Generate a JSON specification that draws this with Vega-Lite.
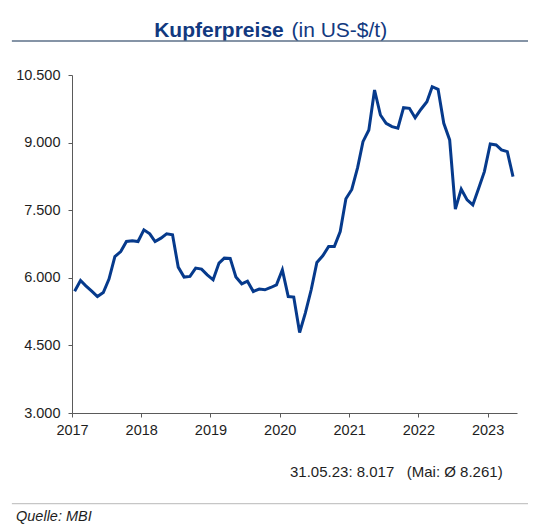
{
  "$schema": "https://vega.github.io/schema/vega-lite/v6.json",
  "width": 445,
  "height": 338,
  "autosize": {"type": "none"},
  "padding": {"left": 72, "top": 75, "right": 25, "bottom": 115},
  "background": "white",
  "config": {"view": {"stroke": null}, "font": "Liberation Sans", "axis": {"grid": false}},
  "layer": [
    {
      "data": {"values": [
        {"date": "2017-01-15", "price": 5700},
        {"date": "2017-02-15", "price": 5940},
        {"date": "2017-03-15", "price": 5822},
        {"date": "2017-04-15", "price": 5705},
        {"date": "2017-05-15", "price": 5585},
        {"date": "2017-06-15", "price": 5674},
        {"date": "2017-07-15", "price": 5971},
        {"date": "2017-08-15", "price": 6472},
        {"date": "2017-09-15", "price": 6583},
        {"date": "2017-10-15", "price": 6805},
        {"date": "2017-11-15", "price": 6820},
        {"date": "2017-12-15", "price": 6805},
        {"date": "2018-01-15", "price": 7064},
        {"date": "2018-02-15", "price": 6975},
        {"date": "2018-03-15", "price": 6805},
        {"date": "2018-04-15", "price": 6880},
        {"date": "2018-05-15", "price": 6975},
        {"date": "2018-06-15", "price": 6953},
        {"date": "2018-07-15", "price": 6237},
        {"date": "2018-08-15", "price": 6016},
        {"date": "2018-09-15", "price": 6030},
        {"date": "2018-10-15", "price": 6215},
        {"date": "2018-11-15", "price": 6193},
        {"date": "2018-12-15", "price": 6066},
        {"date": "2019-01-15", "price": 5956},
        {"date": "2019-02-15", "price": 6326},
        {"date": "2019-03-15", "price": 6436},
        {"date": "2019-04-15", "price": 6430},
        {"date": "2019-05-15", "price": 6020},
        {"date": "2019-06-15", "price": 5867},
        {"date": "2019-07-15", "price": 5925},
        {"date": "2019-08-15", "price": 5696},
        {"date": "2019-09-15", "price": 5749},
        {"date": "2019-10-15", "price": 5734},
        {"date": "2019-11-15", "price": 5785},
        {"date": "2019-12-15", "price": 5845},
        {"date": "2020-01-15", "price": 6177},
        {"date": "2020-02-15", "price": 5585},
        {"date": "2020-03-15", "price": 5572},
        {"date": "2020-04-15", "price": 4787},
        {"date": "2020-05-15", "price": 5217},
        {"date": "2020-06-15", "price": 5734},
        {"date": "2020-07-15", "price": 6339},
        {"date": "2020-08-15", "price": 6487},
        {"date": "2020-09-15", "price": 6693},
        {"date": "2020-10-15", "price": 6693},
        {"date": "2020-11-15", "price": 7026},
        {"date": "2020-12-15", "price": 7755},
        {"date": "2021-01-15", "price": 7960},
        {"date": "2021-02-15", "price": 8450},
        {"date": "2021-03-15", "price": 9021},
        {"date": "2021-04-15", "price": 9281},
        {"date": "2021-05-15", "price": 10167},
        {"date": "2021-06-15", "price": 9613},
        {"date": "2021-07-15", "price": 9429},
        {"date": "2021-08-15", "price": 9354},
        {"date": "2021-09-15", "price": 9318},
        {"date": "2021-10-15", "price": 9775},
        {"date": "2021-11-15", "price": 9761},
        {"date": "2021-12-15", "price": 9553},
        {"date": "2022-01-15", "price": 9740},
        {"date": "2022-02-15", "price": 9908},
        {"date": "2022-03-15", "price": 10241},
        {"date": "2022-04-15", "price": 10183},
        {"date": "2022-05-15", "price": 9429},
        {"date": "2022-06-15", "price": 9059},
        {"date": "2022-07-15", "price": 7523},
        {"date": "2022-08-15", "price": 7966},
        {"date": "2022-09-15", "price": 7729},
        {"date": "2022-10-15", "price": 7618},
        {"date": "2022-11-15", "price": 7988},
        {"date": "2022-12-15", "price": 8356},
        {"date": "2023-01-15", "price": 8970},
        {"date": "2023-02-15", "price": 8948},
        {"date": "2023-03-15", "price": 8837},
        {"date": "2023-04-15", "price": 8800},
        {"date": "2023-05-15", "price": 8245}
      ]},
      "mark": {"type": "line", "color": "#063a8c", "strokeWidth": 3},
      "encoding": {
        "x": {
          "field": "date",
          "type": "temporal",
          "scale": {"type": "utc", "domain": [{"year": 2017, "month": 1, "date": 1, "utc": true}, {"year": 2023, "month": 6, "date": 5, "utc": true}]},
          "axis": {
            "orient": "bottom",
            "values": [
              {"year": 2017, "month": 1, "date": 1, "utc": true},
              {"year": 2018, "month": 1, "date": 1, "utc": true},
              {"year": 2019, "month": 1, "date": 1, "utc": true},
              {"year": 2020, "month": 1, "date": 1, "utc": true},
              {"year": 2021, "month": 1, "date": 1, "utc": true},
              {"year": 2022, "month": 1, "date": 1, "utc": true},
              {"year": 2023, "month": 1, "date": 1, "utc": true}
            ],
            "labelExpr": "utcFormat(datum.value, '%Y')",
            "labelFontSize": 14.5,
            "labelColor": "#1e1e1e",
            "labelPadding": 6,
            "labelFlush": false,
            "labelOverlap": false,
            "tickSize": 4,
            "tickColor": "#5a5a5a",
            "domainColor": "#5a5a5a",
            "title": "31.05.23: 8.017\u00a0\u00a0\u00a0(Mai: Ø 8.261)",
            "titleX": 217.5,
            "titleY": 63,
            "titleAlign": "left",
            "titleBaseline": "alphabetic",
            "titleAngle": 0,
            "titleFontSize": 15,
            "titleFontWeight": "normal",
            "titleColor": "#1e1e1e"
          }
        },
        "y": {
          "field": "price",
          "type": "quantitative",
          "scale": {"domain": [3000, 10500], "zero": false, "nice": false},
          "axis": {
            "orient": "left",
            "values": [3000, 4500, 6000, 7500, 9000, 10500],
            "labelExpr": "replace(format(datum.value, ',.0f'), ',', '.')",
            "labelFontSize": 14.5,
            "labelColor": "#1e1e1e",
            "labelPadding": 8,
            "labelFlush": false,
            "tickSize": 4,
            "tickColor": "#5a5a5a",
            "domainColor": "#5a5a5a",
            "title": "Kupferpreise",
            "titleX": 81.7,
            "titleY": -39,
            "titleAngle": 0,
            "titleAlign": "left",
            "titleBaseline": "alphabetic",
            "titleFontSize": 21,
            "titleFontWeight": "bold",
            "titleColor": "#12397f"
          }
        }
      }
    },
    {
      "data": {"values": [{}]},
      "mark": {"type": "rule", "color": "#5c7089", "strokeWidth": 1.5},
      "encoding": {
        "x": {
          "datum": {"year": 2016, "month": 2, "date": 19, "utc": true},
          "type": "temporal",
          "scale": {"type": "utc", "domain": [{"year": 2017, "month": 1, "date": 1, "utc": true}, {"year": 2023, "month": 6, "date": 5, "utc": true}]},
          "axis": {
            "orient": "top",
            "labels": false,
            "ticks": false,
            "domain": false,
            "title": "Quelle: MBI",
            "titleX": -56.5,
            "titleY": 445.6,
            "titleAngle": 0,
            "titleAlign": "left",
            "titleBaseline": "alphabetic",
            "titleFontSize": 14.5,
            "titleFontWeight": "normal",
            "titleFontStyle": "italic",
            "titleColor": "#1e1e1e"
          }
        },
        "x2": {"datum": {"year": 2023, "month": 8, "date": 2, "utc": true}},
        "y": {
          "datum": 11254,
          "type": "quantitative",
          "scale": {"domain": [3000, 10500], "zero": false, "nice": false},
          "axis": {
            "orient": "right",
            "labels": false,
            "ticks": false,
            "domain": false,
            "title": "(in US-$/t)",
            "titleX": -226,
            "titleY": -39,
            "titleAngle": 0,
            "titleAlign": "left",
            "titleBaseline": "alphabetic",
            "titleFontSize": 21,
            "titleFontWeight": "normal",
            "titleColor": "#12397f"
          }
        }
      }
    },
    {
      "data": {"values": [{}]},
      "mark": {"type": "rule", "color": "#c6c6c6", "strokeWidth": 1.2},
      "encoding": {
        "x": {
          "datum": {"year": 2016, "month": 2, "date": 19, "utc": true},
          "type": "temporal",
          "scale": {"type": "utc", "domain": [{"year": 2017, "month": 1, "date": 1, "utc": true}, {"year": 2023, "month": 6, "date": 5, "utc": true}]},
          "axis": null
        },
        "x2": {"datum": {"year": 2023, "month": 8, "date": 2, "utc": true}},
        "y": {
          "datum": 989,
          "type": "quantitative",
          "scale": {"domain": [3000, 10500], "zero": false, "nice": false},
          "axis": null
        }
      }
    }
  ],
  "resolve": {"axis": {"x": "independent", "y": "independent"}}
}
